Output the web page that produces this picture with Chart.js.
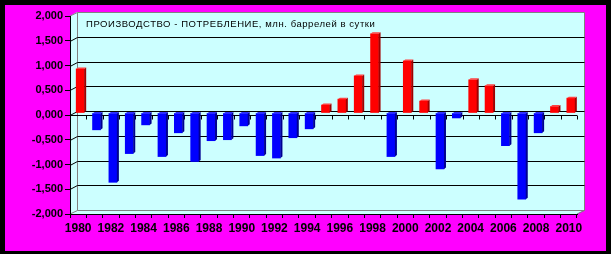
<!DOCTYPE html>
<html>
<head>
<meta charset="utf-8">
<script src="https://cdn.jsdelivr.net/npm/chart.js@4.4.1/dist/chart.umd.min.js"></script>
<style>
html,body{margin:0;padding:0;background:#000;}
#wrap{width:611px;height:254px;}
</style>
</head>
<body>
<div id="wrap"><canvas id="c" width="611" height="254"></canvas></div>
<script>
const years = ['1980','1981','1982','1983','1984','1985','1986','1987','1988','1989','1990','1991','1992','1993','1994','1995','1996','1997','1998','1999','2000','2001','2002','2003','2004','2005','2006','2007','2008','2009','2010'];
const balance = [0.89,-0.34,-1.40,-0.82,-0.24,-0.88,-0.40,-0.98,-0.56,-0.54,-0.26,-0.86,-0.91,-0.50,-0.32,0.16,0.28,0.75,1.60,-0.88,1.05,0.24,-1.13,-0.10,0.67,0.55,-0.66,-1.74,-0.40,0.13,0.30];
const yTickValues = [2,1.5,1,0.5,0,-0.5,-1,-1.5,-2];
const titleText = 'ПРОИЗВОДСТВО - ПОТРЕБЛЕНИЕ, млн. баррелей в сутки';

const DX = 7, DY = -4;

const framePlugin = {
  id: 'frame',
  beforeDraw(chart) {
    const {ctx, chartArea: a, scales} = chart;
    const y = scales.y, x = scales.x;
    const W = chart.width, H = chart.height;
    ctx.save();
    ctx.fillStyle = '#000';
    ctx.fillRect(0, 0, W, H);
    ctx.fillStyle = '#FF00FF';
    ctx.fillRect(5, 5, W - 10, H - 8);
    // walls
    ctx.fillStyle = '#CCFFFF';
    ctx.beginPath();
    ctx.moveTo(a.left, a.top);
    ctx.lineTo(a.left + DX, a.top + DY);
    ctx.lineTo(a.right + DX, a.top + DY);
    ctx.lineTo(a.right + DX, a.bottom + DY);
    ctx.lineTo(a.right, a.bottom);
    ctx.lineTo(a.left, a.bottom);
    ctx.closePath();
    ctx.fill();
    // grey wall edges
    ctx.strokeStyle = '#808080';
    ctx.lineWidth = 1;
    ctx.beginPath();
    const lx = Math.round(a.left + DX) + 0.5, rx = Math.round(a.right + DX) + 0.5;
    const ty = Math.round(a.top + DY) + 0.5, by = Math.round(a.bottom + DY) + 0.5;
    ctx.moveTo(a.left, a.top); ctx.lineTo(lx, ty); ctx.lineTo(rx, ty); ctx.lineTo(rx, by);
    ctx.lineTo(a.right, a.bottom);
    ctx.moveTo(lx, ty); ctx.lineTo(lx, by); ctx.lineTo(rx, by);
    ctx.moveTo(lx, by); ctx.lineTo(a.left, a.bottom);
    ctx.stroke();
    // gridlines on back wall
    ctx.strokeStyle = '#000';
    ctx.beginPath();
    yTickValues.forEach(v => {
      if (v === 2 || v === -2) return;
      const pf = Math.round(y.getPixelForValue(v)) + 0.5;
      const pb = Math.round(y.getPixelForValue(v) + DY) + 0.5;
      ctx.moveTo(a.left, pf);
      ctx.lineTo(lx, pb);
      ctx.lineTo(rx, pb);
    });
    ctx.stroke();
    // category ticks at zero level
    const z = Math.round(y.getPixelForValue(0)) + 0.5;
    ctx.beginPath();
    for (let i = 0; i <= years.length; i++) {
      const px = Math.round(x.getPixelForValue(i - 0.5)) + 0.5;
      ctx.moveTo(px, z);
      ctx.lineTo(px, z + 4);
    }
    ctx.moveTo(a.left, z); ctx.lineTo(a.right, z);
    ctx.stroke();
    // title
    ctx.fillStyle = '#000';
    ctx.font = '9.5px "Liberation Sans", Arial, sans-serif';
    ctx.textBaseline = 'middle';
    ctx.textAlign = 'left';
    const w = ctx.measureText(titleText).width;
    const target = 289;
    ctx.letterSpacing = ((target - w) / (titleText.length - 1)).toFixed(2) + 'px';
    ctx.fillText(titleText, a.left + 16, a.top + 8);
    ctx.restore();
  },
  beforeDatasetsDraw(chart) {
    chart.ctx.save();
    chart.ctx.translate(2, -2);
  },
  afterDatasetsDraw(chart) {
    const ctx = chart.ctx;
    const meta = chart.getDatasetMeta(0);
    meta.data.forEach((el, i) => {
      const v = balance[i];
      const xr = el.x + el.width / 2;
      const xl = el.x - el.width / 2;
      const top = Math.min(el.y, el.base), bot = Math.max(el.y, el.base);
      const d = 2, e = -1.5;
      ctx.fillStyle = v >= 0 ? '#A00000' : '#000090';
      ctx.beginPath();
      ctx.moveTo(xr, top); ctx.lineTo(xr + d, top + e); ctx.lineTo(xr + d, bot + e); ctx.lineTo(xr, bot);
      ctx.closePath(); ctx.fill();
      ctx.fillStyle = v >= 0 ? '#FF4040' : '#3030FF';
      ctx.beginPath();
      ctx.moveTo(xl, top); ctx.lineTo(xl + d, top + e); ctx.lineTo(xr + d, top + e); ctx.lineTo(xr, top);
      ctx.closePath(); ctx.fill();
    });
    ctx.restore();
  }
};

new Chart(document.getElementById('c'), {
  type: 'bar',
  data: {
    labels: years,
    datasets: [{
      data: balance,
      backgroundColor: balance.map(v => v >= 0 ? '#FF0000' : '#0000FF'),
      borderWidth: 0,
      barThickness: 8,
      clip: false
    }]
  },
  options: {
    responsive: false,
    animation: false,
    events: [],
    layout: {padding: {left: 0, top: 16, right: 34, bottom: 0}},
    plugins: {legend: {display: false}, tooltip: {enabled: false}, title: {display: false}},
    scales: {
      x: {
        afterFit: s => { s.height = 40; },
        grid: {display: true, drawOnChartArea: false, drawTicks: true, tickLength: 4, color: '#000', offset: true},
        border: {display: true, color: '#000'},
        ticks: {
          autoSkip: false, maxRotation: 0, minRotation: 0, padding: 3,
          color: '#000',
          font: {family: '"Liberation Sans", Arial, sans-serif', size: 12, weight: 'bold'},
          callback: (val, idx) => idx % 2 === 0 ? years[idx] : ''
        }
      },
      y: {
        min: -2, max: 2,
        afterFit: s => { s.width = 70; },
        afterBuildTicks: s => { s.ticks = yTickValues.map(v => ({value: v})); },
        grid: {display: true, drawOnChartArea: false, drawTicks: true, tickLength: 5, color: '#000'},
        border: {display: true, color: '#000'},
        ticks: {
          padding: 2,
          color: '#000',
          font: {family: '"Liberation Sans", Arial, sans-serif', size: 11, weight: 'bold'},
          callback: v => v.toFixed(3).replace('.', ',')
        }
      }
    }
  },
  plugins: [framePlugin]
});
</script>
</body>
</html>
